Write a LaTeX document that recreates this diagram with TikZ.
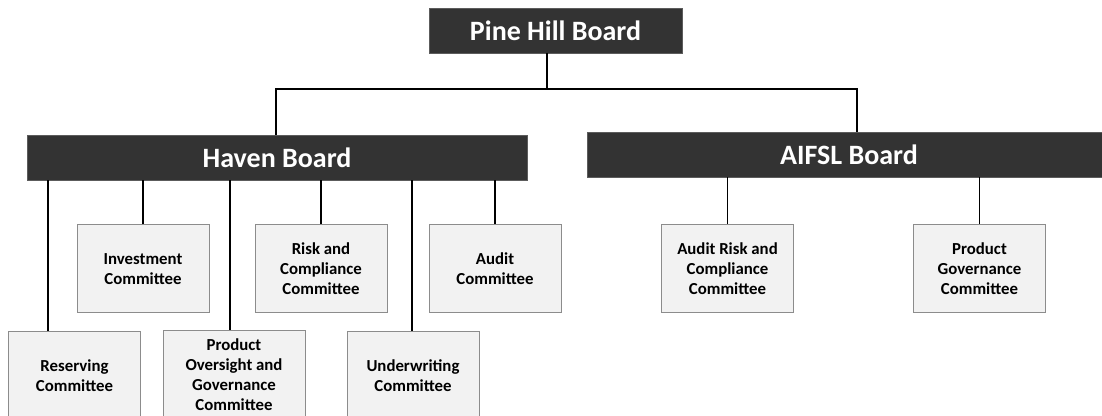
\documentclass[tikz,border=0pt]{standalone}
\usepackage{fontspec}
\setmainfont{Carlito}
\usepackage{xcolor}
\usepackage{tikz}
\usetikzlibrary{calc,positioning}

\definecolor{boardgray}{HTML}{333333}
\definecolor{commfill}{HTML}{F2F2F2}
\definecolor{commline}{HTML}{8C8C8C}

\tikzset{
  board/.style={fill=boardgray, draw=boardgray!80!white, text=white, inner sep=0pt,
    minimum height=33.75pt, font=\bfseries\fontsize{21}{25}\selectfont},
  committee/.style={fill=commfill, draw=commline, line width=0.75pt, inner sep=0pt,
    minimum width=99pt, minimum height=66pt, align=center,
    font=\bfseries\fontsize{12.6}{15}\selectfont},
  conn/.style={black, line width=1.3pt},
}

\begin{document}
\begin{tikzpicture}[x=0.75pt, y=-0.75pt]
  \useasboundingbox (0,0) rectangle (1102,416);
  \clip (0,0) rectangle (1102,416);
  % Top board
  \node[board, minimum width=189.75pt] (pine) at (555.5,30.5) {Pine Hill Board};
  % Subsidiary boards
  \node[board, minimum width=375pt] (haven) at (277,157.5) {Haven Board};
  \node[board, minimum width=393pt] (aifsl) at (849,154.5) {AIFSL Board};
  % Tree from the top board
  \coordinate (split) at (547,89);
  \coordinate (lcorner) at (276,89);
  \coordinate (rcorner) at (857,89);
  \draw[conn] (pine.south -| split) -- (split);
  \draw[conn] (haven.north -| lcorner) -- (lcorner) -- (rcorner) -- (aifsl.north -| rcorner);
  % Haven committees, upper row
  \node[committee] (inv) at (143,269) {Investment\\Committee};
  \node[committee] (risk) at (321,269) {Risk and\\Compliance\\Committee};
  \node[committee] (aud) at (495,269) {Audit\\Committee};
  % Haven committees, lower row
  \node[committee] (res) at (74.5,376) {Reserving\\Committee};
  \node[committee, minimum width=106.5pt] (prod) at (234,375) {Product\\Oversight and\\Governance\\Committee};
  \node[committee] (und) at (413,376) {Underwriting\\Committee};
  % AIFSL committees
  \node[committee] (arc) at (727.5,268.5) {Audit Risk and\\Compliance\\Committee};
  \node[committee] (pgc) at (979.5,268.5) {Product\\Governance\\Committee};
  % Haven links
  \draw[conn] (haven.south -| inv.north) -- (inv.north);
  \draw[conn] (haven.south -| risk.north) -- (risk.north);
  \draw[conn] (haven.south -| aud.north) -- (aud.north);
  \draw[conn] (haven.south -| 48,0) -- (res.north -| 48,0);
  \draw[conn] (haven.south -| 230,0) -- (prod.north -| 230,0);
  \draw[conn] (haven.south -| 412,0) -- (und.north -| 412,0);
  % AIFSL links
  \draw[conn] (aifsl.south -| arc.north) -- (arc.north);
  \draw[conn] (aifsl.south -| pgc.north) -- (pgc.north);
\end{tikzpicture}
\end{document}
